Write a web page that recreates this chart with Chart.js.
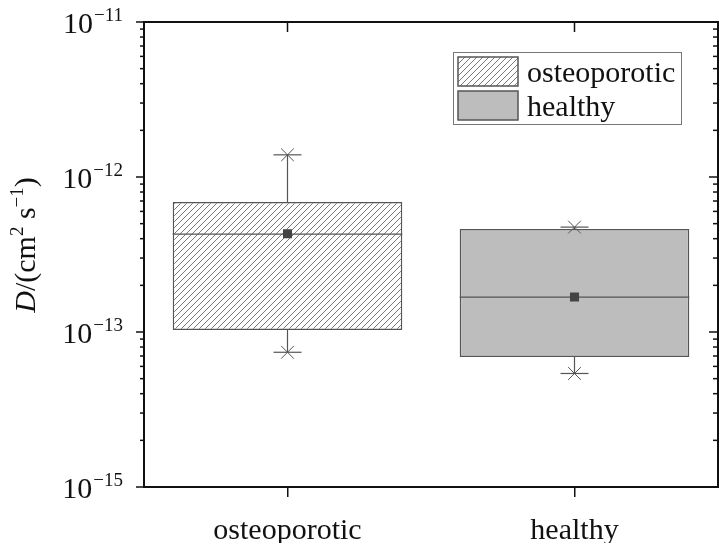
<!DOCTYPE html>
<html>
<head>
<meta charset="utf-8">
<script src="https://cdn.jsdelivr.net/npm/chart.js@4.4.1/dist/chart.umd.min.js"></script>
<style>
  html, body { margin: 0; padding: 0; background: #fff; }
  #wrap { width: 720px; height: 543px; position: relative; }
</style>
</head>
<body>
<div id="wrap"><canvas id="boxChart"></canvas></div>
<script>
// values (D in cm^2 s^-1)
var categories = ['osteoporotic', 'healthy'];
var q1Values = [1.03e-13, 6.9e-14];
var q3Values = [6.9e-13, 4.62e-13];
var medianValues = [4.28e-13, 1.68e-13];
var meanValues = [4.3e-13, 1.68e-13];
var whiskerLow = [7.4e-14, 5.4e-14];
var whiskerHigh = [1.39e-12, 4.75e-13];
var yTickValues = [1e-11, 1e-12, 1e-13, 1e-14];
var yTickLabels = [['10', '\u221211'], ['10', '\u221212'], ['10', '\u221213'], ['10', '\u221215']];
var seriesNames = ['osteoporotic', 'healthy'];

var FONT = '"Liberation Serif", "Times New Roman", serif';

function makeHatch(ctx) {
    var c = document.createElement('canvas');
    c.width = 6; c.height = 6;
    var g = c.getContext('2d');
    g.fillStyle = '#fff';
    g.fillRect(0, 0, 6, 6);
    g.strokeStyle = '#6a6a6a';
    g.lineWidth = 0.9;
    g.beginPath();
    g.moveTo(0, 6); g.lineTo(6, 0);
    g.moveTo(-1, 1); g.lineTo(1, -1);
    g.moveTo(5, 7); g.lineTo(7, 5);
    g.stroke();
    return ctx.createPattern(c, 'repeat');
}

function line(ctx, x1, y1, x2, y2) {
    ctx.beginPath();
    ctx.moveTo(x1, y1);
    ctx.lineTo(x2, y2);
    ctx.stroke();
}

var ctx = document.getElementById('boxChart').getContext('2d');
var hatch = makeHatch(ctx);
var healthyGrey = '#bdbdbd';

var boxParts = {
    id: 'boxParts',
    afterDatasetDraw: function (chart, args) {
        if (args.index !== 0) return;
        var c = chart.ctx, y = chart.scales.y;
        var bars = chart.getDatasetMeta(0).data;
        c.save();
        c.strokeStyle = '#555';
        c.lineWidth = 1.2;
        bars.forEach(function (bar, i) {
            var half = bar.width / 2;
            var yMed = y.getPixelForValue(medianValues[i]);
            line(c, bar.x - half, yMed, bar.x + half, yMed);
            var yTop = y.getPixelForValue(q3Values[i]);
            var yBot = y.getPixelForValue(q1Values[i]);
            var yHi = y.getPixelForValue(whiskerHigh[i]);
            var yLo = y.getPixelForValue(whiskerLow[i]);
            line(c, bar.x, yTop, bar.x, yHi);
            line(c, bar.x, yBot, bar.x, yLo);
            line(c, bar.x - 14, yHi, bar.x + 14, yHi);
            line(c, bar.x - 14, yLo, bar.x + 14, yLo);
        });
        c.restore();
    },
    afterDraw: function (chart) {
        var c = chart.ctx, a = chart.chartArea;
        var y = chart.scales.y, x = chart.scales.x;
        c.save();
        // frame
        c.strokeStyle = '#111';
        c.lineWidth = 2;
        c.strokeRect(a.left, a.top, a.right - a.left, a.bottom - a.top);

        // log ticks, left outward and right inward
        c.lineWidth = 1.5;
        for (var e = -14; e < -11; e++) {
            for (var k = 1; k <= 9; k++) {
                var py = y.getPixelForValue(k * Math.pow(10, e));
                var major = k === 1;
                line(c, a.left - (major ? 8 : 4), py, a.left, py);
                line(c, a.right - (major ? 9 : 5), py, a.right, py);
            }
        }
        line(c, a.left - 8, a.top, a.left, a.top);
        line(c, a.right - 9, a.top, a.right, a.top);
        // top ticks at categories
        categories.forEach(function (cat, i) {
            var px = x.getPixelForValue(i);
            line(c, px, a.top, px, a.top + 10);
        });

        // y tick labels with superscripts
        c.fillStyle = '#111';
        c.textAlign = 'right';
        c.textBaseline = 'alphabetic';
        yTickValues.forEach(function (v, i) {
            var py = y.getPixelForValue(v);
            var right = a.left - 21;
            c.font = '19px ' + FONT;
            var supW = c.measureText(yTickLabels[i][1]).width;
            c.fillText(yTickLabels[i][1], right, py - 1);
            c.font = '30px ' + FONT;
            c.fillText(yTickLabels[i][0], right - supW - 1, py + 11);
        });

        // y axis title, rotated
        var parts = [
            { t: 'D', f: 'italic 30px ' + FONT, dy: 0 },
            { t: '/(cm', f: '30px ' + FONT, dy: 0 },
            { t: '2', f: '19px ' + FONT, dy: -12 },
            { t: ' s', f: '30px ' + FONT, dy: 0 },
            { t: '\u22121', f: '19px ' + FONT, dy: -12 },
            { t: ')', f: '30px ' + FONT, dy: 0 }
        ];
        var total = 0;
        parts.forEach(function (p) { c.font = p.f; p.w = c.measureText(p.t).width; total += p.w; });
        c.translate(35, 245);
        c.rotate(-Math.PI / 2);
        c.textAlign = 'left';
        var cx = -total / 2;
        parts.forEach(function (p) {
            c.font = p.f;
            c.fillText(p.t, cx, p.dy);
            cx += p.w;
        });
        c.restore();

        // legend box
        c.save();
        c.strokeStyle = '#777';
        c.lineWidth = 1;
        c.fillStyle = '#fff';
        c.fillRect(453, 52, 228, 72);
        c.strokeRect(453.5, 52.5, 228, 72);
        var fills = [hatch, healthyGrey];
        c.strokeStyle = '#555';
        c.lineWidth = 1.5;
        c.font = '30px ' + FONT;
        c.textAlign = 'left';
        c.textBaseline = 'alphabetic';
        seriesNames.forEach(function (name, i) {
            var top = 57 + i * 34;
            c.fillStyle = fills[i];
            c.fillRect(458, top, 60, 29);
            c.strokeRect(458, top, 60, 29);
            c.fillStyle = '#111';
            c.fillText(name, 527, top + 25);
        });
        c.restore();
    }
};

var myChart = new Chart(ctx, {
    type: 'bar',
    data: {
        labels: categories,
        datasets: [
            {
                label: 'box',
                data: categories.map(function (c, i) { return [q1Values[i], q3Values[i]]; }),
                backgroundColor: [hatch, healthyGrey],
                borderColor: '#555',
                borderWidth: 1.5,
                borderSkipped: false,
                barPercentage: 1,
                categoryPercentage: 0.8,
                order: 3
            },
            {
                type: 'line',
                label: 'whisker ends',
                data: categories.flatMap(function (c, i) {
                    return [{ x: c, y: whiskerLow[i] }, { x: c, y: whiskerHigh[i] }];
                }),
                showLine: false,
                pointStyle: 'crossRot',
                pointRadius: 9,
                borderColor: '#555',
                borderWidth: 1,
                order: 2
            },
            {
                type: 'line',
                label: 'mean',
                data: meanValues,
                showLine: false,
                pointStyle: 'rect',
                pointRadius: 6.4,
                backgroundColor: '#444',
                borderColor: '#444',
                borderWidth: 0,
                order: 1
            }
        ]
    },
    options: {
        responsive: true,
        maintainAspectRatio: false,
        animation: false,
        devicePixelRatio: 1,
        layout: { autoPadding: false, padding: { left: 0, right: 2, top: 22, bottom: 0 } },
        plugins: {
            legend: { display: false },
            tooltip: { enabled: false }
        },
        scales: {
            x: {
                type: 'category',
                offset: true,
                grid: { display: true, offset: false, drawOnChartArea: false, drawTicks: true, tickLength: 10, color: '#111', lineWidth: 1.5 },
                border: { display: false },
                ticks: { font: { family: FONT, size: 30 }, color: '#111', padding: 16, maxRotation: 0 },
                afterFit: function (s) { s.height = 56; }
            },
            y: {
                type: 'logarithmic',
                min: 1e-14,
                max: 1e-11,
                grid: { display: false },
                border: { display: false },
                ticks: { display: false },
                afterFit: function (s) { s.width = 144; }
            }
        }
    },
    plugins: [boxParts]
});
</script>
</body>
</html>
